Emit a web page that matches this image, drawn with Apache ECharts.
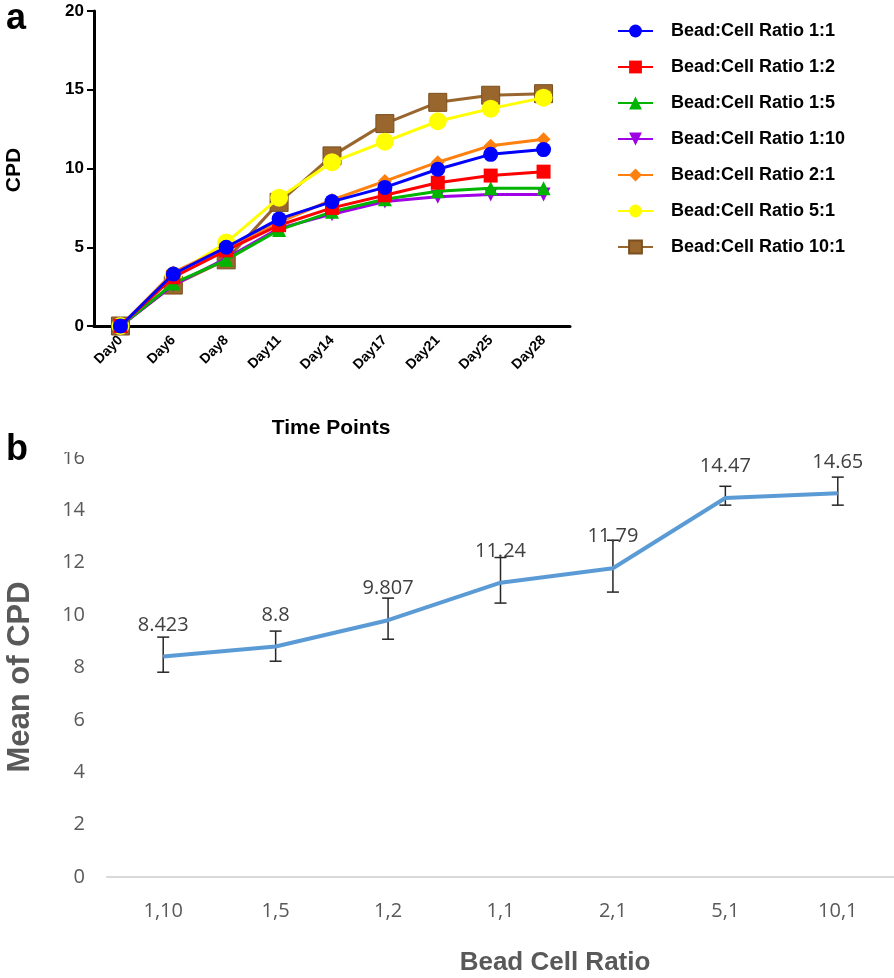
<!DOCTYPE html>
<html><head><meta charset="utf-8">
<script src="https://cdn.jsdelivr.net/npm/echarts@6/dist/echarts.min.js"></script>
<style>html,body{margin:0;padding:0;background:#fff}#c{width:894px;height:978px}</style>
</head><body><div id="c"></div>
<script>
// ---- Panel a data ----
const days = ['Day0','Day6','Day8','Day11','Day14','Day17','Day21','Day25','Day28'];
const seriesNames = ['Bead:Cell Ratio 1:1','Bead:Cell Ratio 1:2','Bead:Cell Ratio 1:5','Bead:Cell Ratio 1:10','Bead:Cell Ratio 2:1','Bead:Cell Ratio 5:1','Bead:Cell Ratio 10:1'];
const r1_1  = [0, 3.3, 5.0, 6.8, 7.9, 8.8, 9.95, 10.9, 11.2];
const r1_2  = [0, 3.1, 4.8, 6.4, 7.5, 8.3, 9.1, 9.55, 9.8];
const r1_5  = [0, 2.7, 4.2, 6.1, 7.25, 8.05, 8.55, 8.75, 8.75];
const r1_10 = [0, 2.6, 4.3, 6.2, 7.1, 7.9, 8.2, 8.35, 8.35];
const r2_1  = [0, 3.4, 5.0, 6.6, 8.0, 9.2, 10.4, 11.45, 11.85];
const r5_1  = [0, 3.2, 5.3, 8.15, 10.4, 11.7, 13.0, 13.8, 14.5];
const r10_1 = [0, 2.6, 4.2, 7.85, 10.8, 12.85, 14.2, 14.65, 14.75];
const aTicks = [0, 5, 10, 15, 20];

// ---- Panel b data ----
const ratios = ['1,10','1,5','1,2','1,1','2,1','5,1','10,1'];
const meanCPD = [8.423, 8.8, 9.807, 11.24, 11.79, 14.47, 14.65];
const errLow  = [7.82, 8.24, 9.08, 10.46, 10.88, 14.2, 14.2];
const errHigh = [9.16, 9.39, 10.65, 12.2, 12.86, 14.92, 15.27];
const bTicks = [0, 2, 4, 6, 8, 10, 12, 14, 16];

const aData = [r1_1, r1_2, r1_5, r1_10, r2_1, r5_1, r10_1];
const colors = ['#0000FF','#FF0000','#00B400','#A000E6','#FF7F0F','#FFFF00','#99662E'];
const symbols = ['circle','rect','triangle','triangle','diamond','circle','rect'];
const symRot = [0,0,0,180,0,0,0];
const symSize = [15,14,14,14,14,18,18];

const chart = echarts.init(document.getElementById('c'), null, {renderer:'canvas'});

const aSeries = aData.map((d,i)=>({
  name: seriesNames[i], type:'line', xAxisIndex:0, yAxisIndex:0,
  data: d, symbol: symbols[i], symbolSize: symSize[i], symbolRotate: symRot[i],
  lineStyle:{color:colors[i], width:3}, itemStyle:{color:colors[i], borderColor: i===6?'#7a4f1e':colors[i], borderWidth: i===6?1:0, opacity:1},
  z: 10 - i, animation:false
}));

const option = {
  animation:false,
  grid:[
    {left:94, top:11, width:476, height:315},
    {left:107, top:458, width:799, height:419}
  ],
  legend:{
    orient:'vertical', left:617, top:22, padding:0, itemWidth:35, itemHeight:16, itemGap:18,
    data: seriesNames,
    textStyle:{fontFamily:'Liberation Sans, Arial', fontWeight:'bold', fontSize:18, color:'#000', lineHeight:18, padding:[0,0,0,13]}
  },
  xAxis:[
    {type:'category', gridIndex:0, data:days, boundaryGap:true,
     axisLine:{lineStyle:{color:'#000', width:3}},
     axisTick:{alignWithLabel:true, length:7, lineStyle:{color:'#000', width:2}},
     axisLabel:{rotate:45, fontFamily:'Liberation Sans, Arial', fontWeight:'bold', fontSize:14, color:'#000', margin:12},
     splitLine:{show:false}},
    {type:'category', gridIndex:1, data:ratios, boundaryGap:true,
     axisLine:{lineStyle:{color:'#d9d9d9', width:2}},
     axisTick:{show:false},
     axisLabel:{fontFamily:'Open Sans', fontSize:20, color:'#595959', margin:24},
     splitLine:{show:false}}
  ],
  yAxis:[
    {type:'value', gridIndex:0, min:0, max:20, interval:5,
     axisLine:{show:true, lineStyle:{color:'#000', width:3}},
     axisTick:{show:true, length:7, lineStyle:{color:'#000', width:2}},
     axisLabel:{fontFamily:'Liberation Sans, Arial', fontWeight:'bold', fontSize:17, color:'#000', margin:10},
     splitLine:{show:false}},
    {type:'value', gridIndex:1, min:0, max:16, interval:2,
     axisLine:{show:false}, axisTick:{show:false},
     axisLabel:{fontFamily:'Open Sans', fontSize:20, color:'#595959', margin:22},
     splitLine:{show:false}}
  ],
  series: aSeries.concat([
    {type:'custom', xAxisIndex:1, yAxisIndex:1, z:2,
     data: ratios.map((r,i)=>[i, errLow[i], errHigh[i]]),
     renderItem:function(params, api){
       const x = api.value(0);
       const lo = api.coord([x, api.value(1)]);
       const hi = api.coord([x, api.value(2)]);
       const w = 6;
       const st = {stroke:'#262626', lineWidth:1.5};
       return {type:'group', children:[
         {type:'line', shape:{x1:lo[0], y1:lo[1], x2:hi[0], y2:hi[1]}, style:st},
         {type:'line', shape:{x1:hi[0]-w, y1:hi[1], x2:hi[0]+w, y2:hi[1]}, style:st},
         {type:'line', shape:{x1:lo[0]-w, y1:lo[1], x2:lo[0]+w, y2:lo[1]}, style:st}
       ]};
     }},
    {type:'line', xAxisIndex:1, yAxisIndex:1, data:meanCPD, z:5,
     symbol:'circle', symbolSize:1, itemStyle:{color:'#5B9BD5'},
     lineStyle:{color:'#5B9BD5', width:4},
     label:{show:true, position:'top', distance:21, fontFamily:'Open Sans', fontSize:20, color:'#404040'}}
  ]),
  graphic:[
    {type:'rect', left:55, top:436, shape:{width:45, height:16}, style:{fill:'#fff'}, z:100},
    {type:'text', left:6, top:1, style:{text:'a', font:'bold 36px Liberation Sans, Arial', fill:'#000'}, z:101},
    {type:'text', left:6, top:432, style:{text:'b', font:'bold 36px Liberation Sans, Arial', fill:'#000'}, z:101},
    {type:'text', x:14, y:170, rotation:Math.PI/2, style:{text:'CPD', font:'bold 21px Liberation Sans, Arial', fill:'#000', align:'center', verticalAlign:'middle'}},
    {type:'text', x:331, y:428, style:{text:'Time Points', font:'bold 21px Liberation Sans, Arial', fill:'#000', align:'center', verticalAlign:'middle'}},
    {type:'text', x:20, y:677, rotation:Math.PI/2, style:{text:'Mean of CPD', font:'bold 31px Liberation Sans, Arial', fill:'#595959', align:'center', verticalAlign:'middle'}},
    {type:'text', x:555, y:963, style:{text:'Bead Cell Ratio', font:'bold 26px Liberation Sans, Arial', fill:'#595959', align:'center', verticalAlign:'middle'}}
  ]
};
chart.setOption(option);
</script></body></html>
